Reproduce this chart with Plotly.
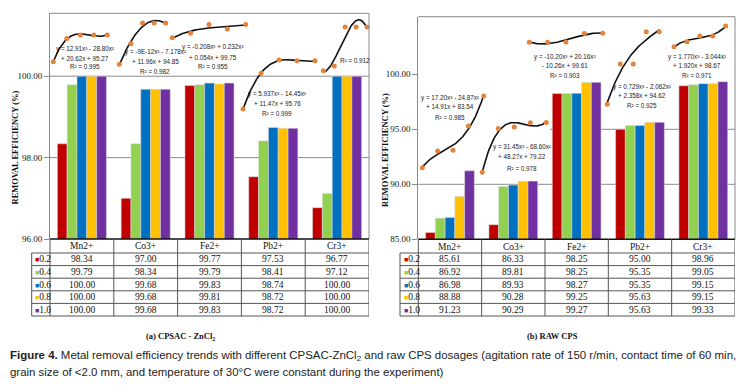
import numpy as np
import plotly.graph_objects as go

W, H = 750, 387

# ---------------- data ----------------
metals = ["Mn2+", "Co3+", "Fe2+", "Pb2+", "Cr3+"]
doses = [0.2, 0.4, 0.6, 0.8, 1.0]
dose_labels = ["0.2", "0.4", "0.6", "0.8", "1.0"]

# (a) CPSAC-ZnCl2 removal efficiency (%) for each dose, per metal
cpsac_d02 = [98.34, 97.00, 99.77, 97.53, 96.77]
cpsac_d04 = [99.79, 98.34, 99.79, 98.41, 97.12]
cpsac_d06 = [100.00, 99.68, 99.83, 98.74, 100.00]
cpsac_d08 = [100.00, 99.68, 99.81, 98.72, 100.00]
cpsac_d10 = [100.00, 99.68, 99.83, 98.72, 100.00]

# (b) raw CPS removal efficiency (%) for each dose, per metal
raw_d02 = [85.61, 86.33, 98.25, 95.00, 98.96]
raw_d04 = [86.92, 89.81, 98.25, 95.35, 99.05]
raw_d06 = [86.98, 89.93, 98.27, 95.35, 99.15]
raw_d08 = [88.88, 90.28, 99.25, 95.63, 99.15]
raw_d10 = [91.23, 90.29, 99.27, 95.63, 99.33]

cpsac_eq = [
    ["y = 12.91x³ - 28.80x²", "+ 20.62x + 95.27", "R² = 0.995"],
    ["y = -9E-12x³ - 7.178x²", "+ 11.96x + 94.85", "R² = 0.982"],
    ["y = -0.208x³ + 0.232x²", "+ 0.054x + 99.75", "R² = 0.955"],
    ["y = 5.937x³ - 14.45x²", "+ 11.47x + 95.76", "R² = 0.999"],
    ["R² = 0.912"],
]
raw_eq = [
    ["y = 17.20x³ - 24.87x²", "+ 14.91x + 83.54", "R² = 0.985"],
    ["y = 31.45x³ - 68.60x²", "+ 48.27x + 79.22", "R² = 0.978"],
    ["y = -10.20x³ + 20.16x²", "- 10.26x + 99.61", "R² = 0.903"],
    ["y = 0.729x³ - 2.062x²", "+ 2.358x + 94.62", "R² = 0.925"],
    ["y = 1.770x³ - 3.044x²", "+ 1.920x + 98.67", "R² = 0.971"],
]

left_ticks = [96, 98, 100]
right_ticks = [85, 90, 95, 100]

# ---------------- styling / layout constants ----------------
dose_colors = ["#C00000", "#92D050", "#0070C0", "#FFC000", "#7030A0"]
PT_COLOR = "#E3843E"
SERIF = "Liberation Serif"
SANS = "Liberation Sans"


def px(p):
    return p / W


def py(p):
    return 1 - p / H


# panel geometry in pixels
panels = [
    dict(x0=50, x1=369, top=13.3, bot=239, leg0=31.7, yr=(96, 96 + (239 - 13.3) / 40.7),
         ticks=left_ticks, title="(a) CPSAC - ZnCl<sub>2</sub>", tx=180, ax=15, ay=147.5),
    dict(x0=418.3, x1=735, top=16.7, bot=239.3, leg0=400, yr=(85, 85 + (239.3 - 16.7) / 11.0),
         ticks=right_ticks, title="(b) RAW CPS", tx=552, ax=385, ay=150),
]
HEADER_BOT = 253
ROW_H = 12.6

# mini trend-chart anchors: (x of first dose, x of last dose, y px of first value, y px of max value)
mini_anchor = [
    [(53.3, 107.3, 61.7, 35.0), (119.3, 165.7, 64.3, 23.0), (172.3, 245.7, 37.7, 24.5),
     (243.0, 315.0, 109.0, 60.0), (323.3, 367.0, 70.7, 27.0)],
    [(422.3, 483.7, 167.7, 96.0), (482.3, 546.3, 172.3, 122.5), (529.3, 602.7, 42.3, 33.3),
     (607.3, 659.3, 104.3, 31.7), (674.0, 725.7, 46.7, 26.0)],
]
eq_pos = [
    [(85, [49, 58, 67]), (155, [52, 61, 71]), (213, [47, 57, 67]), (277, [94, 103, 113]), (355, [60])],
    [(450, [98, 106.5, 117]), (521.7, [147.3, 156.7, 169]), (565, [56.7, 65.7, 75.7]),
     (641.7, [87.3, 95.7, 105]), (696.7, [57.3, 66, 75])],
]

datasets = [
    [cpsac_d02, cpsac_d04, cpsac_d06, cpsac_d08, cpsac_d10],
    [raw_d02, raw_d04, raw_d06, raw_d08, raw_d10],
]
equations = [cpsac_eq, raw_eq]

fig = go.Figure()
shapes = []
annotations = []
layout = {}

GRAY = "#8a8a8a"
TAB = "#555555"


def ann(**kw):
    kw.setdefault("showarrow", False)
    kw.setdefault("xanchor", "center")
    kw.setdefault("yanchor", "middle")
    annotations.append(kw)


for p, pan in enumerate(panels):
    xa = "x" if p == 0 else "x2"
    ya = "y" if p == 0 else "y2"
    xkey = "xaxis" if p == 0 else "xaxis2"
    ykey = "yaxis" if p == 0 else "yaxis2"
    series = datasets[p]

    layout[xkey] = dict(domain=[px(pan["x0"]), px(pan["x1"])], range=[-0.5, 4.5],
                        showticklabels=False, showgrid=False, zeroline=False, showline=False,
                        ticks="", fixedrange=True, anchor=ya, type="category", automargin=False,
                        categoryorder="array", categoryarray=metals)
    layout[ykey] = dict(domain=[py(pan["bot"]), py(pan["top"])], range=list(pan["yr"]),
                        tickvals=pan["ticks"], tickformat=".2f", ticks="outside", ticklen=5,
                        tickcolor=GRAY, showline=True, linecolor=GRAY, linewidth=1, automargin=False,
                        showgrid=False, zeroline=False, fixedrange=True, anchor=xa,
                        tickfont=dict(family=SERIF, size=9, color="#111"))

    # bars
    for j in range(5):
        fig.add_trace(go.Bar(x=metals, y=series[j], xaxis=xa, yaxis=ya,
                             marker=dict(color=dose_colors[j], line=dict(color="#d8d8d8", width=0.6)),
                             name=dose_labels[j], showlegend=False))

    # gridlines
    if p == 0:
        for g in [98, 100]:
            shapes.append(dict(type="line", xref="paper", yref=ya, x0=px(pan["x0"]), x1=px(pan["x1"]),
                               y0=g, y1=g, line=dict(color=GRAY, width=1), layer="below"))
    else:
        shapes.append(dict(type="line", xref="paper", yref=ya, x0=px(pan["x0"]), x1=px(pan["x1"]),
                           y0=90, y1=90, line=dict(color=GRAY, width=1), layer="below"))
        shapes.append(dict(type="line", xref="paper", yref=ya, x0=px(550), x1=px(pan["x1"]),
                           y0=95, y1=95, line=dict(color=GRAY, width=1), layer="below"))

    # frame
    shapes.append(dict(type="line", xref="paper", yref="paper", x0=px(pan["x0"]), x1=px(pan["x1"]),
                       y0=py(pan["top"]), y1=py(pan["top"]), line=dict(color=GRAY, width=1)))
    shapes.append(dict(type="line", xref="paper", yref="paper", x0=px(pan["x1"]), x1=px(pan["x1"]),
                       y0=py(pan["top"]), y1=py(pan["bot"]), line=dict(color=GRAY, width=1)))
    shapes.append(dict(type="line", xref="paper", yref="paper", x0=px(pan["x0"]), x1=px(pan["x1"]),
                       y0=py(pan["bot"]), y1=py(pan["bot"]), line=dict(color="#111", width=1.6)))

    # table
    tab_bot = HEADER_BOT + 5 * ROW_H
    shapes.append(dict(type="line", xref="paper", yref="paper", x0=px(pan["x0"]), x1=px(pan["x0"]),
                       y0=py(pan["bot"]), y1=py(tab_bot), line=dict(color=TAB, width=1)))
    shapes.append(dict(type="line", xref="paper", yref="paper", x0=px(pan["leg0"]), x1=px(pan["leg0"]),
                       y0=py(HEADER_BOT), y1=py(tab_bot), line=dict(color=TAB, width=1)))
    for k in range(6):
        yy = HEADER_BOT + k * ROW_H
        shapes.append(dict(type="line", xref="paper", yref="paper", x0=px(pan["leg0"]), x1=px(pan["x1"]),
                           y0=py(yy), y1=py(yy), line=dict(color=TAB, width=1)))
    for b in [0.5, 1.5, 2.5, 3.5, 4.5]:
        shapes.append(dict(type="line", xref=xa, yref="paper", x0=b, x1=b,
                           y0=py(pan["bot"]), y1=py(tab_bot), line=dict(color=TAB, width=1)))
    for i, m in enumerate(metals):
        ann(x=m, xref=xa, y=py((pan["bot"] + HEADER_BOT) / 2 + 0.5), yref="paper",
            text=m, font=dict(family=SERIF, size=9.5, color="#111"))
        for j in range(5):
            ann(x=m, xref=xa, y=py(HEADER_BOT + (j + 0.5) * ROW_H), yref="paper",
                text=f"{series[j][i]:.2f}", font=dict(family=SERIF, size=9.5, color="#111"))
    for j in range(5):
        ann(x=px(pan["leg0"] + 1.5), xref="paper", xanchor="left",
            y=py(HEADER_BOT + (j + 0.5) * ROW_H), yref="paper",
            text=f'<span style="color:{dose_colors[j]};font-size:7px">■</span>{dose_labels[j]}',
            font=dict(family=SERIF, size=9.5, color="#111"))

    # panel title and axis title
    ann(x=px(pan["tx"]), y=py(336), xref="paper", yref="paper", text="<b>" + pan["title"] + "</b>",
        font=dict(family=SERIF, size=8.5, color="#111"))
    ann(x=px(pan["ax"]), y=py(pan["ay"]), xref="paper", yref="paper",
        text="<b>REMOVAL EFFICIENCY (%)</b>", textangle=-90,
        font=dict(family=SERIF, size=8.5, color="#111"))

    # mini trend charts
    for i in range(5):
        n = 3 + p * 5 + i
        vals = [series[j][i] for j in range(5)]
        x0, x1, p0, pm = mini_anchor[p][i]
        s = (x1 - x0) / (doses[-1] - doses[0])
        xr = [doses[0] - x0 / s, doses[0] + (W - x0) / s]
        v0, vm = vals[0], max(vals)
        k = (p0 - pm) / (vm - v0)
        yr = [v0 - (H - p0) / k, v0 + p0 / k]
        layout[f"xaxis{n}"] = dict(domain=[0, 1], range=xr, visible=False, fixedrange=True,
                                   anchor=f"y{n}", automargin=False)
        layout[f"yaxis{n}"] = dict(domain=[0, 1], range=yr, visible=False, fixedrange=True,
                                   anchor=f"x{n}", automargin=False)
        coef = np.polyfit(doses, vals, 3)
        xs = np.linspace(doses[0], doses[-1], 80)
        fig.add_trace(go.Scatter(x=xs, y=np.polyval(coef, xs), mode="lines", xaxis=f"x{n}", yaxis=f"y{n}",
                                 line=dict(color="#111", width=1.6), showlegend=False, hoverinfo="skip",
                                 cliponaxis=False))
        fig.add_trace(go.Scatter(x=doses, y=vals, mode="markers", xaxis=f"x{n}", yaxis=f"y{n}",
                                 marker=dict(color=PT_COLOR, size=5), showlegend=False, cliponaxis=False))
        cx, ys = eq_pos[p][i]
        for line_txt, yy in zip(equations[p][i], ys):
            ann(x=px(cx), y=py(yy), xref="paper", yref="paper", text=line_txt,
                font=dict(family=SANS, size=6.3, color="#222"))

# caption
ann(x=px(8), y=py(356), xref="paper", yref="paper", xanchor="left",
    text="<b>Figure 4.</b> Metal removal efficiency trends with different CPSAC-ZnCl<sub>2</sub> "
         "and raw CPS dosages (agitation rate of 150 r/min, contact time of 60 min,",
    font=dict(family=SANS, size=11.45, color="#222"))
ann(x=px(8), y=py(372), xref="paper", yref="paper", xanchor="left",
    text="grain size of &lt;2.0 mm, and temperature of 30°C were constant during the experiment)",
    font=dict(family=SANS, size=11.45, color="#222"))

fig.update_layout(
    width=W, height=H, margin=dict(l=0, r=0, t=0, b=0, pad=0, autoexpand=False),
    paper_bgcolor="white", plot_bgcolor="rgba(0,0,0,0)",
    barmode="group", bargap=0.23, bargroupgap=0,
    showlegend=False, shapes=shapes, annotations=annotations,
    **layout,
)

fig.write_html("out.html", config={"displayModeBar": False},
               post_script="document.body.style.margin='0px';")
